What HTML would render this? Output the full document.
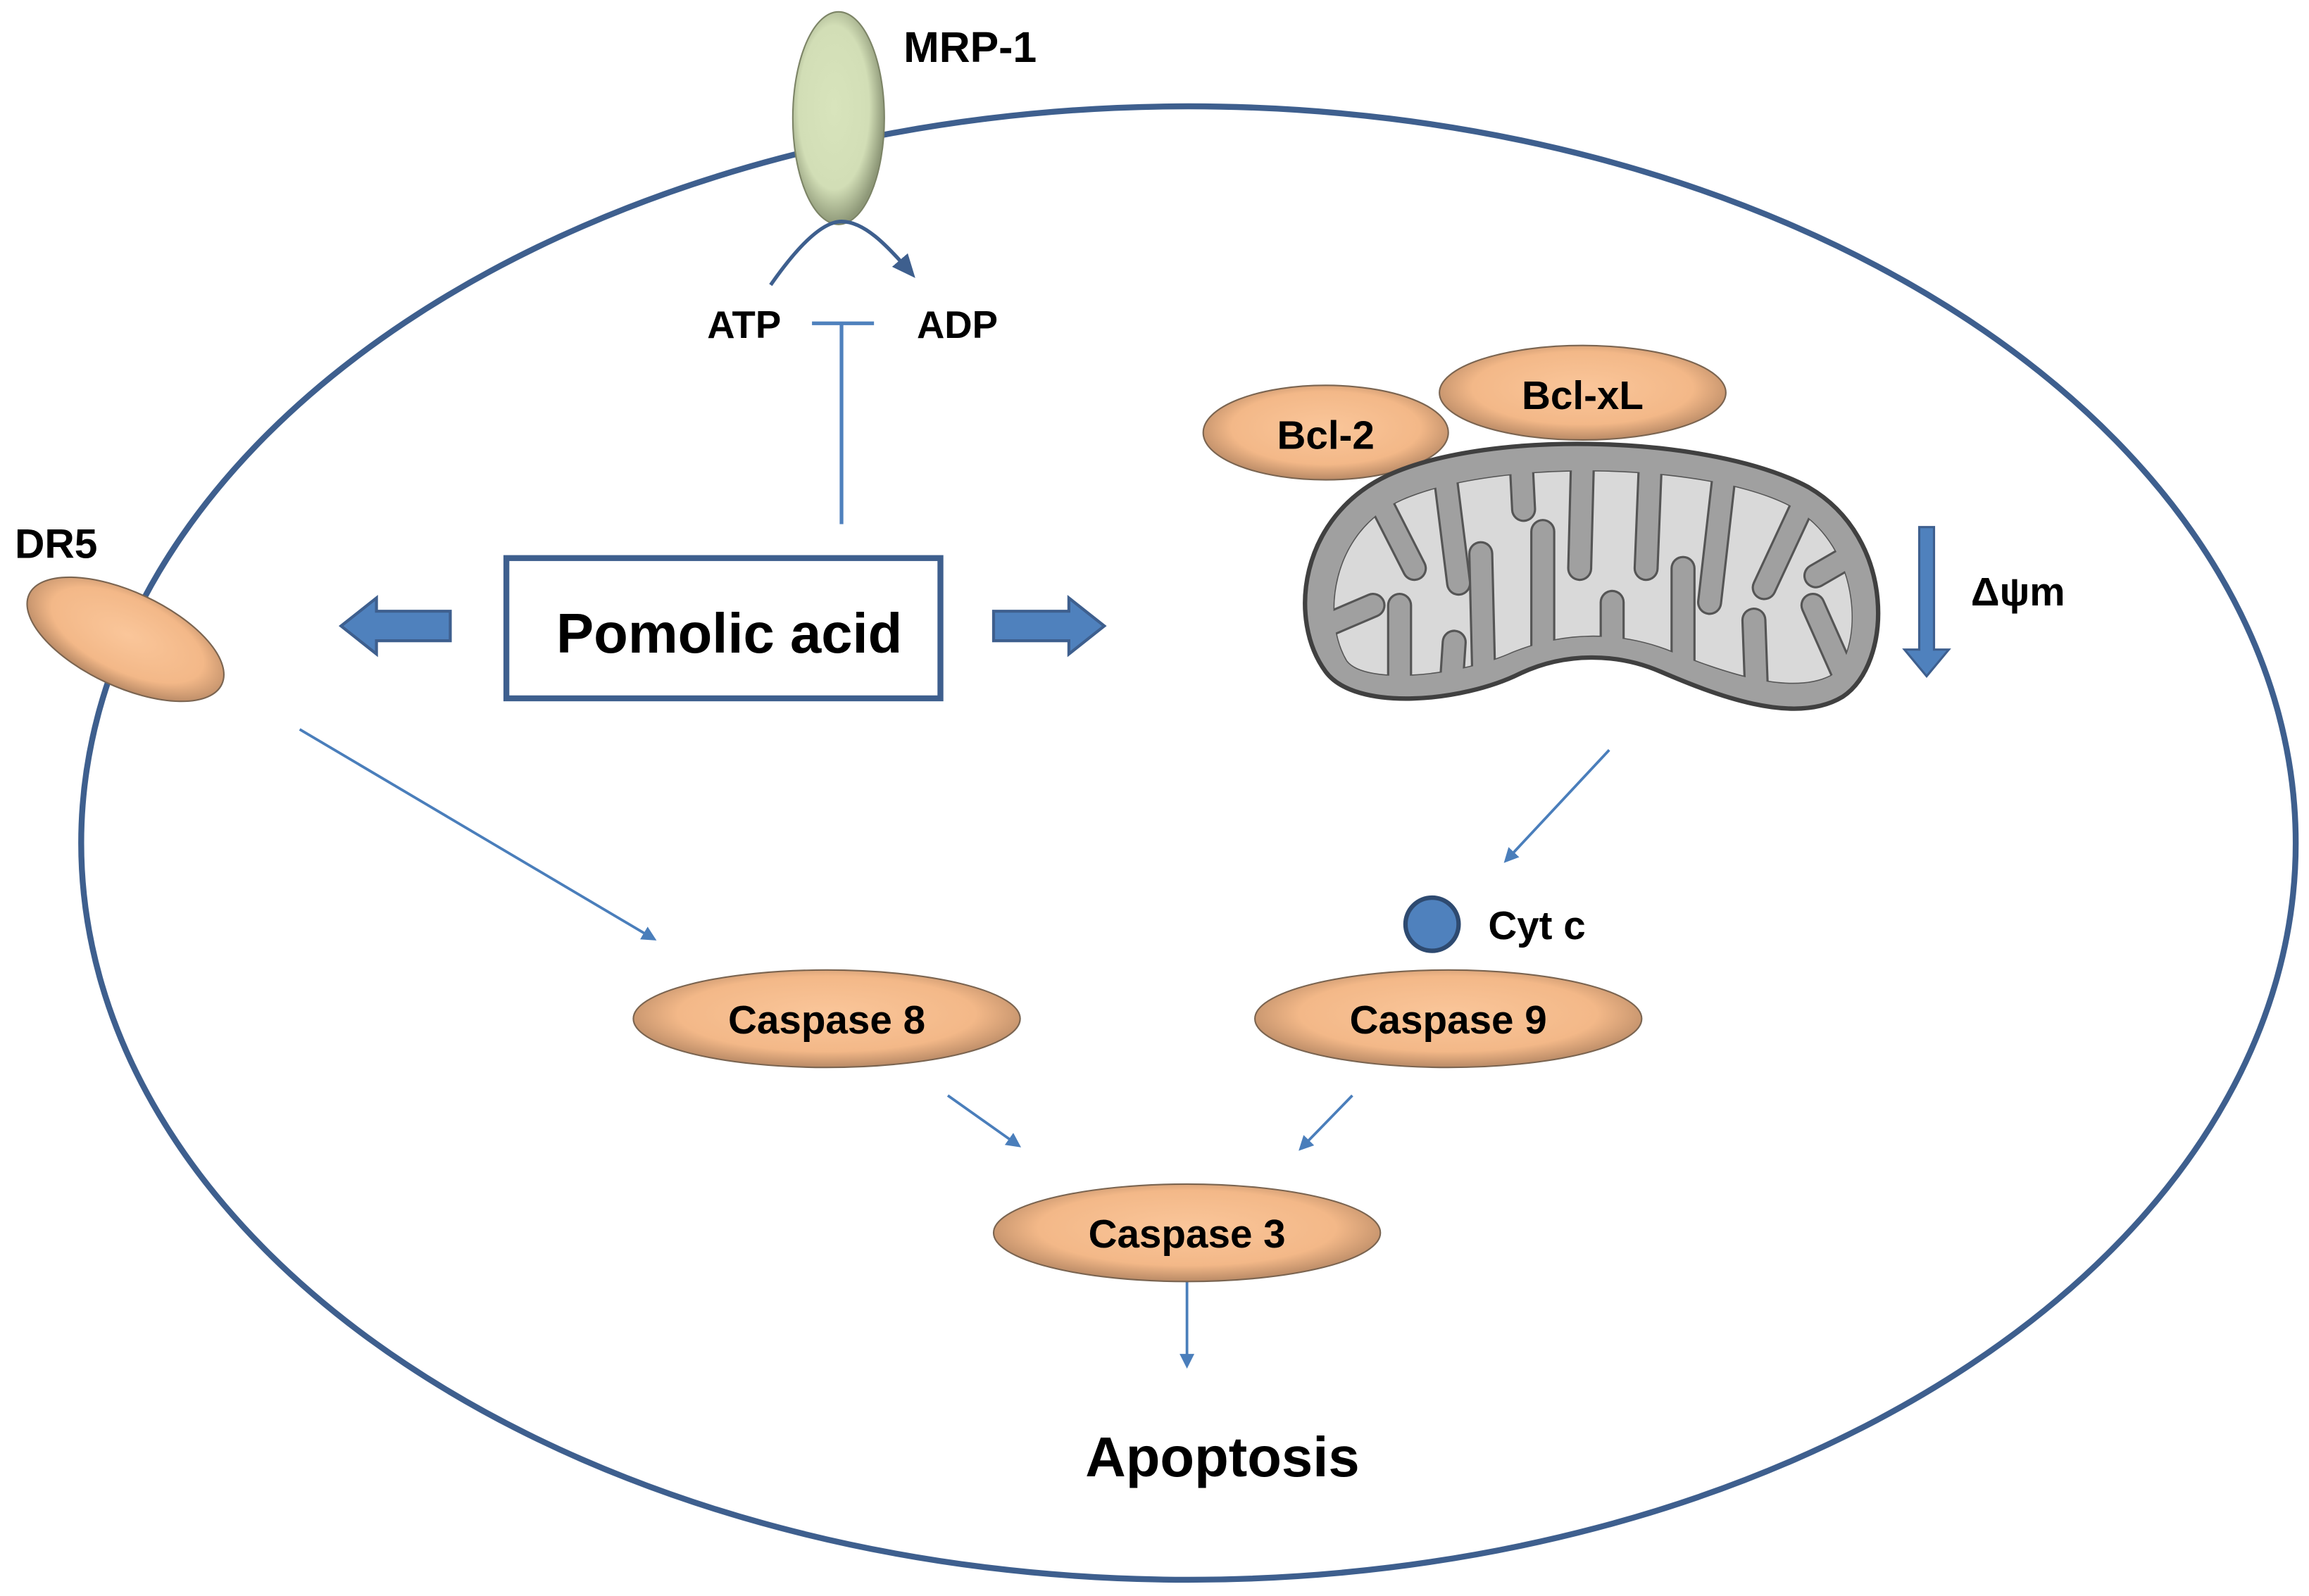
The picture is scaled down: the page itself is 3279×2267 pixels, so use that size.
<!DOCTYPE html>
<html><head><meta charset="utf-8"><style>
html,body{margin:0;padding:0;background:#fff;}
svg{display:block;}
text{font-family:"Liberation Sans",sans-serif;font-weight:bold;fill:#000;}
</style></head><body>
<svg width="3279" height="2267" viewBox="0 0 1564 1081" preserveAspectRatio="none" xmlns="http://www.w3.org/2000/svg">
<defs>
<radialGradient id="og" cx="50%" cy="45%" r="55%">
<stop offset="0" stop-color="#fac69a"/><stop offset="0.7" stop-color="#f3b888"/><stop offset="1" stop-color="#b98a66"/>
</radialGradient>
<radialGradient id="gg" cx="45%" cy="45%" r="55%">
<stop offset="0" stop-color="#d8e4bc"/><stop offset="0.7" stop-color="#d2deb6"/><stop offset="1" stop-color="#8e9878"/>
</radialGradient>
<marker id="ah" markerWidth="10" markerHeight="10" refX="8" refY="5" orient="auto" markerUnits="userSpaceOnUse">
<path d="M0,0 L10,5 L0,10 Z" fill="#4a7ebb"/></marker>
<marker id="ah2" markerWidth="16" markerHeight="14" refX="13" refY="7" orient="auto" markerUnits="userSpaceOnUse">
<path d="M0,0 L16,7 L0,14 Z" fill="#3e5f8e"/></marker>
<clipPath id="mc"><path d="M898,455 C872,420 880,350 940,322 C1010,290 1160,295 1225,330 C1285,365 1282,450 1248,472 C1215,492 1160,470 1125,455 C1095,442 1060,442 1030,456 C990,476 918,482 898,455 Z"/></clipPath>
</defs>
<ellipse cx="805" cy="571" rx="750" ry="499" fill="none" stroke="#3e5f8e" stroke-width="4"/>
<ellipse cx="568" cy="80" rx="31" ry="72" fill="url(#gg)" stroke="#7c8466" stroke-width="1"/>
<text x="612" y="42" font-size="29">MRP-1</text>
<path d="M522,193 C545,160 560,150 570,150 C585,150 600,165 618,186" fill="none" stroke="#3e5f8e" stroke-width="2.5" marker-end="url(#ah2)"/>
<text x="479" y="229" font-size="26">ATP</text>
<text x="621" y="229" font-size="26">ADP</text>
<line x1="550" y1="219" x2="592" y2="219" stroke="#4f81bd" stroke-width="2.5"/>
<line x1="570" y1="219" x2="570" y2="355" stroke="#4f81bd" stroke-width="2.5"/>
<rect x="343" y="378" width="294" height="95" fill="#fff" stroke="#3e5f8e" stroke-width="4"/>
<text x="494" y="442" font-size="38" text-anchor="middle">Pomolic acid</text>
<path d="M305,414 L255,414 L255,405 L231,424 L255,443 L255,434 L305,434 Z" fill="#4f81bd" stroke="#3e5f8e" stroke-width="2"/>
<path d="M673,414 L724,414 L724,405 L748,424 L724,443 L724,434 L673,434 Z" fill="#4f81bd" stroke="#3e5f8e" stroke-width="2"/>
<text x="10" y="378" font-size="28">DR5</text>
<ellipse cx="85" cy="433" rx="72" ry="32" transform="rotate(25 85 433)" fill="url(#og)" stroke="#7a6450" stroke-width="1"/>
<ellipse cx="898" cy="293" rx="83" ry="32" fill="url(#og)" stroke="#7a6450" stroke-width="1"/>
<text x="898" y="304" font-size="27" text-anchor="middle">Bcl-2</text>
<ellipse cx="1072" cy="266" rx="97" ry="32" fill="url(#og)" stroke="#7a6450" stroke-width="1"/>
<text x="1072" y="277" font-size="27" text-anchor="middle">Bcl-xL</text>
<path d="M898,455 C872,420 880,350 940,322 C1010,290 1160,295 1225,330 C1285,365 1282,450 1248,472 C1215,492 1160,470 1125,455 C1095,442 1060,442 1030,456 C990,476 918,482 898,455 Z" fill="#a0a0a0"/>
<path d="M912,448 C895,420 900,360 950,338 C1015,310 1155,313 1212,342 C1265,370 1262,445 1240,458 C1212,472 1165,455 1128,440 C1095,428 1060,428 1025,442 C990,458 925,465 912,448 Z" fill="#d9d9d9" stroke="#555" stroke-width="1.5"/>
<g stroke-linecap="round" fill="none" clip-path="url(#mc)">
<g stroke="#555" stroke-width="17">
<path d="M930,330 L958,385"/><path d="M978,315 L988,395"/><path d="M1030,305 L1032,345"/><path d="M1072,308 L1070,385"/><path d="M1118,310 L1115,385"/><path d="M1168,320 L1158,408"/><path d="M1222,340 L1195,398"/>
<path d="M895,425 L930,410"/><path d="M948,470 L948,410"/><path d="M983,465 L985,435"/><path d="M1005,458 L1003,375"/><path d="M1045,448 L1045,360"/><path d="M1092,450 L1092,408"/><path d="M1140,460 L1140,385"/><path d="M1190,475 L1188,420"/><path d="M1248,455 L1228,410"/><path d="M1268,368 L1230,390"/>
</g>
<g stroke="#a0a0a0" stroke-width="14">
<path d="M930,330 L958,385"/><path d="M978,315 L988,395"/><path d="M1030,305 L1032,345"/><path d="M1072,308 L1070,385"/><path d="M1118,310 L1115,385"/><path d="M1168,320 L1158,408"/><path d="M1222,340 L1195,398"/>
<path d="M895,425 L930,410"/><path d="M948,470 L948,410"/><path d="M983,465 L985,435"/><path d="M1005,458 L1003,375"/><path d="M1045,448 L1045,360"/><path d="M1092,450 L1092,408"/><path d="M1140,460 L1140,385"/><path d="M1190,475 L1188,420"/><path d="M1248,455 L1228,410"/><path d="M1268,368 L1230,390"/>
</g>
</g>
<path fill-rule="evenodd" fill="#a0a0a0" stroke="none" d="M898,455 C872,420 880,350 940,322 C1010,290 1160,295 1225,330 C1285,365 1282,450 1248,472 C1215,492 1160,470 1125,455 C1095,442 1060,442 1030,456 C990,476 918,482 898,455 Z M912,448 C895,420 900,360 950,338 C1015,310 1155,313 1212,342 C1265,370 1262,445 1240,458 C1212,472 1165,455 1128,440 C1095,428 1060,428 1025,442 C990,458 925,465 912,448 Z"/>
<path d="M898,455 C872,420 880,350 940,322 C1010,290 1160,295 1225,330 C1285,365 1282,450 1248,472 C1215,492 1160,470 1125,455 C1095,442 1060,442 1030,456 C990,476 918,482 898,455 Z" fill="none" stroke="#404040" stroke-width="3"/>
<path d="M1300,357 L1310,357 L1310,440 L1320,440 L1305,458 L1290,440 L1300,440 Z" fill="#4f81bd" stroke="#3e5f8e" stroke-width="1.5"/>
<text x="1335" y="410" font-size="27">Δψm</text>
<line x1="203" y1="494" x2="443" y2="636" stroke="#4a7ebb" stroke-width="1.8" marker-end="url(#ah)"/>
<line x1="1090" y1="508" x2="1020" y2="583" stroke="#4a7ebb" stroke-width="1.8" marker-end="url(#ah)"/>
<line x1="642" y1="742" x2="690" y2="776" stroke="#4a7ebb" stroke-width="1.8" marker-end="url(#ah)"/>
<line x1="916" y1="742" x2="881" y2="778" stroke="#4a7ebb" stroke-width="1.8" marker-end="url(#ah)"/>
<line x1="804" y1="867" x2="804" y2="925" stroke="#4a7ebb" stroke-width="1.8" marker-end="url(#ah)"/>
<circle cx="970" cy="626" r="18" fill="#4f81bd" stroke="#2e4a70" stroke-width="3"/>
<text x="1008" y="636" font-size="27">Cyt c</text>
<ellipse cx="560" cy="690" rx="131" ry="33" fill="url(#og)" stroke="#7a6450" stroke-width="1"/>
<text x="560" y="700" font-size="27" text-anchor="middle">Caspase 8</text>
<ellipse cx="981" cy="690" rx="131" ry="33" fill="url(#og)" stroke="#7a6450" stroke-width="1"/>
<text x="981" y="700" font-size="27" text-anchor="middle">Caspase 9</text>
<ellipse cx="804" cy="835" rx="131" ry="33" fill="url(#og)" stroke="#7a6450" stroke-width="1"/>
<text x="804" y="845" font-size="27" text-anchor="middle">Caspase 3</text>
<text x="828" y="1000" font-size="38" text-anchor="middle">Apoptosis</text>
</svg>
</body></html>
